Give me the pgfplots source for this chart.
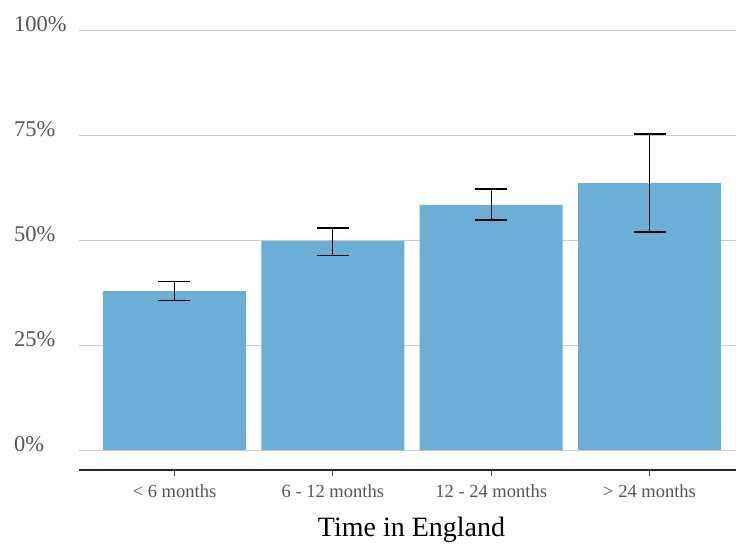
\documentclass[border=0pt]{standalone}
\usepackage{fontspec}
\setmainfont{Liberation Serif}
\usepackage{pgfplots}
\usepackage{pgfplotstable}
\pgfplotsset{compat=1.18}
\definecolor{barblue}{RGB}{107,174,214}
\definecolor{ticktext}{RGB}{85,85,85}
\definecolor{gridc}{RGB}{204,204,204}
\pgfplotstableread{
x y ep em
0 37.9 2.4 2.3
1 49.9 3.1 3.4
2 58.5 3.8 3.6
3 63.7 11.7 11.7
}\data
\begin{document}
\begin{tikzpicture}[x=1pt,y=1pt]
\path[use as bounding box] (0,0) rectangle (736,544);
\begin{axis}[
  at={(79pt,74pt)}, anchor=south west,
  scale only axis, width=657pt, height=439pt,
  xmin=-0.603, xmax=3.546, ymin=-4.77, ymax=100,
  ybar, bar width=143pt,
  axis x line*=bottom, axis y line*=left,
  y axis line style={draw=none},
  x axis line style={line width=1.5pt, black!85},
  xtick={0,1,2,3},
  xticklabels={{< 6 months},{6 - 12 months},{12 - 24 months},{> 24 months}},
  ytick={0,25,50,75,100},
  yticklabels={0\%,25\%,50\%,75\%,100\%},
  ymajorgrids, grid style={gridc, line width=1pt},
  xtick style={draw=ticktext, line width=1pt},
  major tick length=6pt, tick align=outside,
  ytick style={draw=none},
  xticklabel style={anchor=base, yshift=-21pt, text=ticktext, font=\fontsize{18.5}{20}\selectfont},
  yticklabel style={anchor=base west, inner sep=0pt, xshift=-59pt, yshift=-1pt, text=ticktext, font=\fontsize{22.5}{24}\selectfont},
  xlabel={Time in England},
  xlabel style={at={(axis description cs:0.5,0)}, anchor=base, xshift=4pt, yshift=-66pt, font=\fontsize{28}{30}\selectfont},
  clip=false,
]
\addplot[fill=barblue, draw=none,
  error bars/.cd, y dir=both, y explicit,
  error bar style={black, line width=1.3pt},
  error mark options={rotate=90, mark size=16pt, black, line width=1.3pt}]
  table[x=x, y=y, y error plus=ep, y error minus=em]{\data};
\end{axis}
\end{tikzpicture}
\end{document}
